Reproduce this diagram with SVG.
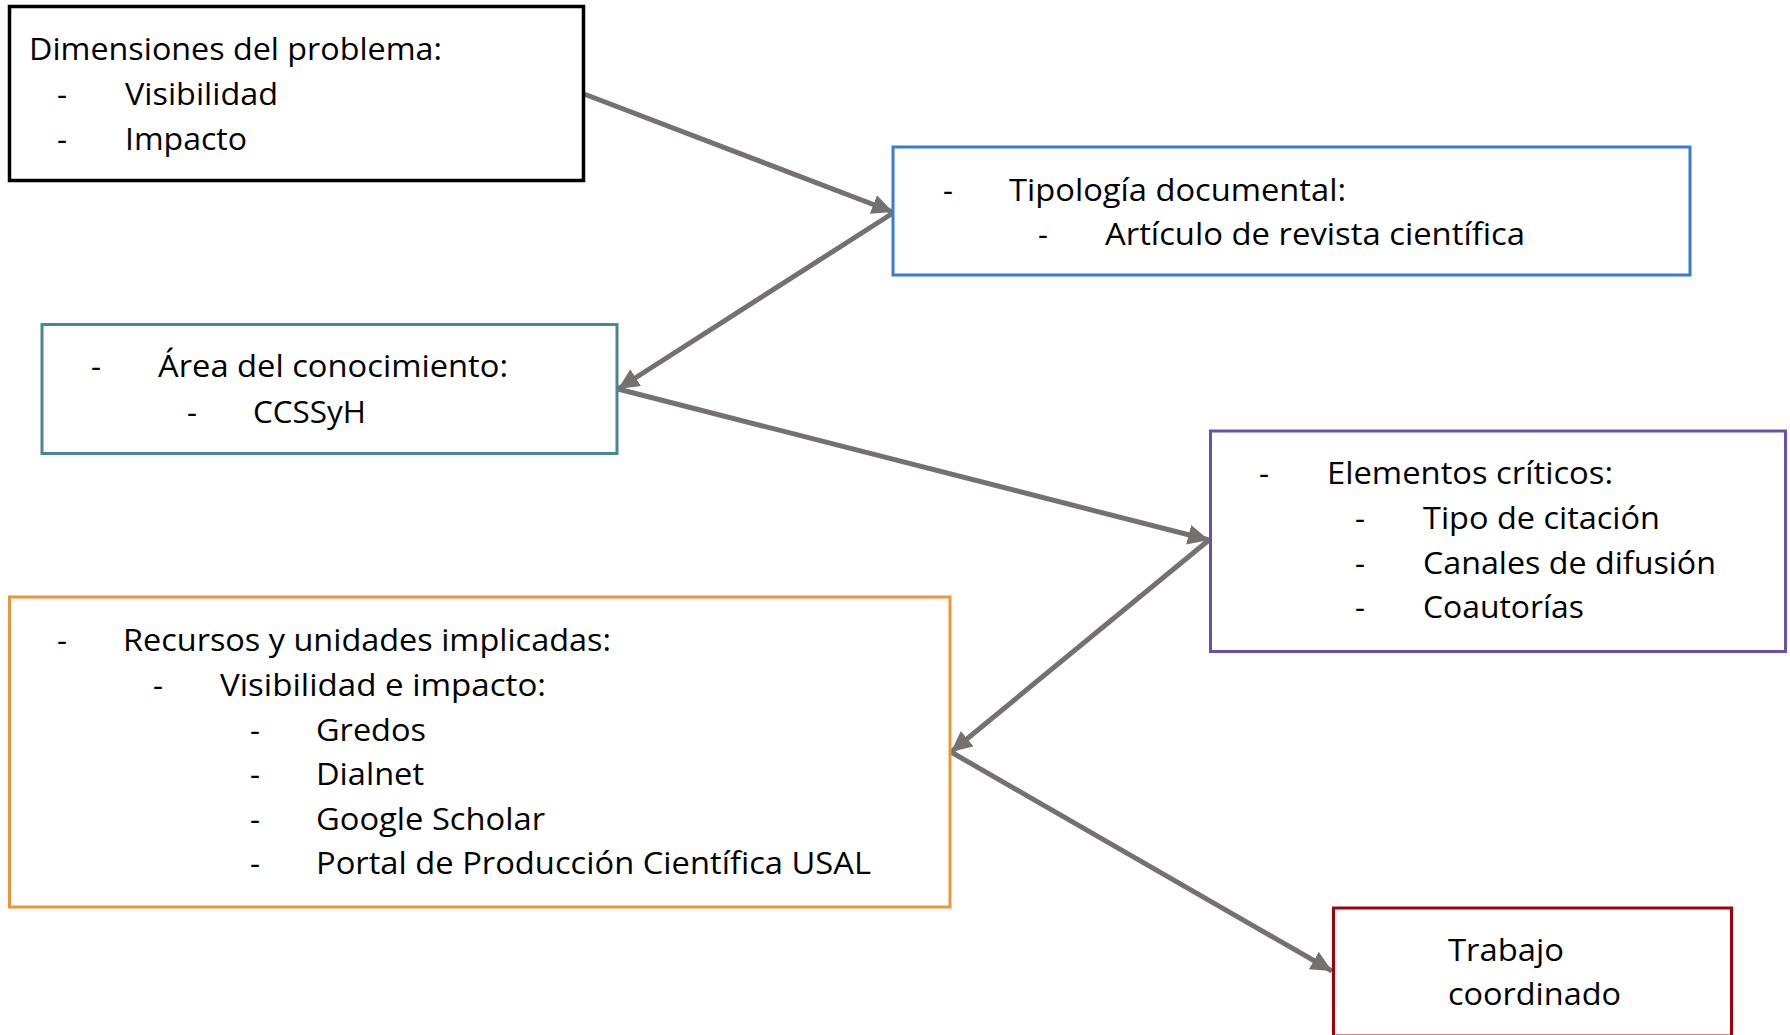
<svg xmlns="http://www.w3.org/2000/svg" width="1790" height="1035" viewBox="0 0 1790 1035">
<style>
text{font-family:"Open Sans","Noto Sans","Liberation Sans",sans-serif;font-size:31px;fill:#000}
.box{fill:#fff}
.conn{stroke:#767171;stroke-width:5;fill:none}
</style>
<defs>
<marker id="arr" markerUnits="userSpaceOnUse" markerWidth="26" markerHeight="22" refX="21" refY="10" orient="auto">
<path d="M0,0 L21,10 L0,20 Z" fill="#767171"/>
</marker>
</defs>
<rect width="1790" height="1035" fill="#fff"/>
<g id="connectors">
<line class="conn" x1="584" y1="94" x2="893" y2="212" marker-end="url(#arr)"/>
<line class="conn" x1="893" y1="213" x2="618" y2="389" marker-end="url(#arr)"/>
<line class="conn" x1="618" y1="389" x2="1209" y2="540" marker-end="url(#arr)"/>
<line class="conn" x1="1209" y1="540" x2="951" y2="752" marker-end="url(#arr)"/>
<line class="conn" x1="951" y1="752" x2="1332" y2="971" marker-end="url(#arr)"/>
</g>
<g id="node-dimensiones">
<rect class="box" x="9.5" y="6.5" width="574" height="174" stroke="#000" stroke-width="3.5"/>
<text x="29" y="60" textLength="413" lengthAdjust="spacingAndGlyphs">Dimensiones del problema:</text>
<text x="57" y="105">-</text>
<text x="125" y="105" textLength="153" lengthAdjust="spacingAndGlyphs">Visibilidad</text>
<text x="57" y="150">-</text>
<text x="125" y="150" textLength="122" lengthAdjust="spacingAndGlyphs">Impacto</text>
</g>
<g id="node-tipologia">
<rect class="box" x="893" y="147" width="797" height="128" stroke="#3B7BD6" stroke-width="3"/>
<text x="943" y="201">-</text>
<text x="1009" y="201" textLength="337" lengthAdjust="spacingAndGlyphs">Tipología documental:</text>
<text x="1038" y="245">-</text>
<text x="1105" y="245" textLength="420" lengthAdjust="spacingAndGlyphs">Artículo de revista científica</text>
</g>
<g id="node-area">
<rect class="box" x="42" y="324.5" width="575" height="129" stroke="#4A8693" stroke-width="3"/>
<text x="91" y="377">-</text>
<text x="158" y="377" textLength="350" lengthAdjust="spacingAndGlyphs">Área del conocimiento:</text>
<text x="187" y="423">-</text>
<text x="253" y="423" textLength="113" lengthAdjust="spacingAndGlyphs">CCSSyH</text>
</g>
<g id="node-elementos">
<rect class="box" x="1210.5" y="431" width="575" height="220.5" stroke="#6B50A9" stroke-width="3"/>
<text x="1259" y="484">-</text>
<text x="1327" y="484" textLength="286" lengthAdjust="spacingAndGlyphs">Elementos críticos:</text>
<text x="1355" y="529">-</text>
<text x="1423" y="529" textLength="237" lengthAdjust="spacingAndGlyphs">Tipo de citación</text>
<text x="1355" y="574">-</text>
<text x="1423" y="574" textLength="293" lengthAdjust="spacingAndGlyphs">Canales de difusión</text>
<text x="1355" y="618">-</text>
<text x="1423" y="618" textLength="161" lengthAdjust="spacingAndGlyphs">Coautorías</text>
</g>
<g id="node-recursos">
<rect class="box" x="9.5" y="597" width="940.5" height="310" stroke="#E9963B" stroke-width="3"/>
<text x="57" y="651">-</text>
<text x="123" y="651" textLength="488" lengthAdjust="spacingAndGlyphs">Recursos y unidades implicadas:</text>
<text x="153" y="696">-</text>
<text x="220" y="696" textLength="326" lengthAdjust="spacingAndGlyphs">Visibilidad e impacto:</text>
<text x="250" y="741">-</text>
<text x="316" y="741" textLength="110" lengthAdjust="spacingAndGlyphs">Gredos</text>
<text x="250" y="785">-</text>
<text x="316" y="785" textLength="108" lengthAdjust="spacingAndGlyphs">Dialnet</text>
<text x="250" y="830">-</text>
<text x="316" y="830" textLength="229" lengthAdjust="spacingAndGlyphs">Google Scholar</text>
<text x="250" y="874">-</text>
<text x="316" y="874" textLength="555" lengthAdjust="spacingAndGlyphs">Portal de Producción Científica USAL</text>
</g>
<g id="node-trabajo">
<rect class="box" x="1333.5" y="908" width="398" height="128" stroke="#A3000F" stroke-width="3"/>
<text x="1448" y="961" textLength="116" lengthAdjust="spacingAndGlyphs">Trabajo</text>
<text x="1448" y="1005" textLength="173" lengthAdjust="spacingAndGlyphs">coordinado</text>
</g>
</svg>
